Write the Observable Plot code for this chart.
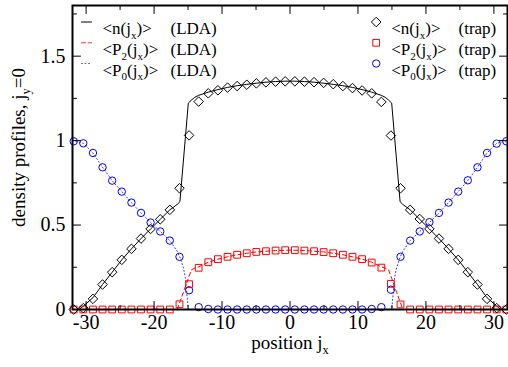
<!DOCTYPE html>
<html><head><meta charset="utf-8">
<script src="https://cdn.jsdelivr.net/npm/d3@7"></script>
<script src="https://cdn.jsdelivr.net/npm/@observablehq/plot@0.6"></script>
<style>body{margin:0;background:#fff}</style>
</head><body><div id="chart"></div>
<script>
// ---- data ----
const trapX = [-31.82,-30.41,-28.99,-27.58,-26.16,-24.75,-23.33,-21.92,-20.51,-19.09,-17.68,-16.26,-14.85,-13.44,-12.02,-10.61,-9.19,-7.78,-6.36,-4.95,-3.54,-2.12,-0.71,
  0.71,2.12,3.54,4.95,6.36,7.78,9.19,10.61,12.02,13.44,14.85,16.26,17.68,19.09,20.51,21.92,23.33,24.75,26.16,27.58,28.99,30.41,31.82];
const nTrap = [0.000,0.008,0.063,0.148,0.221,0.294,0.359,0.420,0.477,0.534,0.590,0.718,1.031,1.231,1.280,1.298,1.314,1.323,1.331,1.339,1.345,1.349,1.351,
  1.351,1.349,1.346,1.342,1.334,1.323,1.311,1.297,1.280,1.229,1.030,0.718,0.590,0.536,0.477,0.420,0.359,0.294,0.221,0.148,0.063,0.008,0.000];
const p2Trap = [0,0,0,0,0,0,0,0,0,0,0,0.031,0.150,0.247,0.280,0.298,0.312,0.324,0.333,0.341,0.345,0.349,0.351,
  0.351,0.349,0.345,0.340,0.333,0.324,0.312,0.298,0.278,0.248,0.152,0.030,0,0,0,0,0,0,0,0,0,0,0];
const p0Trap = [0.996,0.984,0.927,0.842,0.763,0.698,0.633,0.572,0.515,0.462,0.408,0.312,0.114,0.014,0.003,0,0,0,0,0,0,0,0,
  0,0,0,0,0,0,0,0,0.003,0.014,0.117,0.312,0.408,0.462,0.517,0.572,0.633,0.698,0.765,0.842,0.927,0.982,0.996];

const ldaX = [-32,-31,-30.41,-28.99,-27.58,-26.16,-24.75,-23.33,-21.92,-20.51,-19.09,-17.68,-16.6,-16.2,-15.7,-15.4,-14.96,-14.5,-14.0,-13.44,-12.02,-10.61,-9.19,-7.78,-6.36,-4.95,-3.54,-2.12,-0.71,
  0,
  0.71,2.12,3.54,4.95,6.36,7.78,9.19,10.61,12.02,13.44,14.0,14.5,14.96,15.4,15.7,16.2,16.6,17.68,19.09,20.51,21.92,23.33,24.75,26.16,27.58,28.99,30.41,31,32];
const nLda = [0,0,0.02,0.07,0.148,0.221,0.294,0.359,0.420,0.477,0.534,0.590,0.622,0.638,0.873,1.014,1.222,1.240,1.257,1.268,1.287,1.302,1.315,1.325,1.333,1.340,1.346,1.350,1.352,
  1.352,
  1.352,1.350,1.346,1.340,1.333,1.325,1.315,1.302,1.287,1.268,1.257,1.240,1.222,1.014,0.873,0.638,0.622,0.590,0.534,0.477,0.420,0.359,0.294,0.221,0.148,0.07,0.02,0,0];
const p2Lda = [0,0,0,0,0,0,0,0,0,0,0,0,0,0.045,0.100,0.135,0.185,0.235,0.245,0.252,0.280,0.298,0.312,0.324,0.333,0.341,0.345,0.349,0.351,
  0.352,
  0.351,0.349,0.345,0.341,0.333,0.324,0.312,0.298,0.280,0.252,0.245,0.235,0.185,0.135,0.100,0.045,0,0,0,0,0,0,0,0,0,0,0,0,0];
const p0Lda = [1.0,0.99,0.984,0.927,0.842,0.763,0.698,0.633,0.572,0.515,0.462,0.408,0.345,0.31,0.25,0.19,0,0,0,0,0,0,0,0,0,0,0,0,0,
  0,
  0,0,0,0,0,0,0,0,0,0,0,0,0,0.19,0.25,0.31,0.345,0.408,0.462,0.515,0.572,0.633,0.698,0.763,0.842,0.927,0.984,0.99,1.0];

const xMajor = [-30,-20,-10,0,10,20,30];
const xMinor = [-25,-15,-5,5,15,25];
const yMajor = [0,0.5,1,1.5];
const yMinor = [0.25,0.75,1.25,1.75];
const yLabels = ["0","0.5","1","1.5"];
const ldaLabels = ["<n(j_x)>","<P_2(j_x)>","<P_0(j_x)>"];
const trapLabels = ["<n(j_x)>","<P_2(j_x)>","<P_0(j_x)>"];
const colors = ["black","#ff0000","#0000ff"];
const legendColors = ["black","#ff3030","#6060ff"];
const dashes = [null,"4,3","1,2.5"];
const symbols = ["diamond2","square2","circle"];

// ---- build ----
const trap = trapX.map((x,i)=>({x, n:nTrap[i], p2:p2Trap[i], p0:p0Trap[i]}));
const lda = ldaX.map((x,i)=>({x, n:nLda[i], p2:p2Lda[i], p0:p0Lda[i]}));
const tickShape = {draw(ctx, l){ ctx.moveTo(0,0); ctx.lineTo(0,-l); }};
const FONT = "Liberation Serif, Times New Roman, serif";

function ticks(vals, len, dir){
  const common = {anchor:"start", shape:tickShape, length:len, stroke:"black", strokeWidth:1};
  if (dir==="x") return [
    Plot.vector(vals,{...common, x:d=>d, frameAnchor:"bottom", rotate:0}),
    Plot.vector(vals,{...common, x:d=>d, frameAnchor:"top", rotate:180})];
  return [
    Plot.vector(vals,{...common, y:d=>d, frameAnchor:"left", rotate:90}),
    Plot.vector(vals,{...common, y:d=>d, frameAnchor:"right", rotate:-90})];
}

const rowDy = [16.5, 37.3, 58];
const LFS = 17;
const legend = [];
ldaLabels.forEach((s,i)=>{
  legend.push(Plot.vector([s],{frameAnchor:"top-left", dx:9, dy:rowDy[i], rotate:90, anchor:"start", length:10, shape:tickShape, stroke:legendColors[i], strokeDasharray:dashes[i], strokeWidth:1}));
  legend.push(Plot.text([s],{frameAnchor:"top-left", dx:30, dy:rowDy[i], text:d=>d, textAnchor:"start", fontSize:LFS}));
  legend.push(Plot.text(["(LDA)"],{frameAnchor:"top-left", dx:98, dy:rowDy[i], text:d=>d, textAnchor:"start", fontSize:LFS}));
});
trapLabels.forEach((s,i)=>{
  legend.push(Plot.dot([s],{frameAnchor:"top-left", dx:303.7, dy:rowDy[i], symbol:symbols[i], r:i===2?3.7:4.3, stroke:colors[i], fill:"none", strokeWidth:1}));
  legend.push(Plot.text([s],{frameAnchor:"top-left", dx:318.7, dy:rowDy[i], text:d=>d, textAnchor:"start", fontSize:LFS}));
  legend.push(Plot.text(["(trap)"],{frameAnchor:"top-left", dx:386, dy:rowDy[i], text:d=>d, textAnchor:"start", fontSize:LFS}));
});

const chart = Plot.plot({
  width:508, height:367,
  marginLeft:72, marginRight:1, marginTop:5, marginBottom:58,
  x:{domain:[-32,32], axis:null},
  y:{domain:[0,1.8], axis:null},
  style:{fontFamily:FONT, background:"white", color:"black"},
  marks:[
    Plot.line(lda,{x:"x", y:"n", stroke:colors[0], strokeWidth:1}),
    Plot.line(lda,{x:"x", y:"p2", stroke:colors[1], strokeWidth:1, strokeDasharray:dashes[1]}),
    Plot.line(lda,{x:"x", y:"p0", stroke:"#3030ff", strokeWidth:1, strokeDasharray:dashes[2]}),
    Plot.dot(trap,{x:"x", y:"p0", symbol:"circle", r:3.7, stroke:colors[2], fill:"none", strokeWidth:1}),
    Plot.dot(trap,{x:"x", y:"p2", symbol:"square2", r:4.3, stroke:colors[1], fill:"none", strokeWidth:1}),
    Plot.dot(trap,{x:"x", y:"n", symbol:"diamond2", r:4.3, stroke:colors[0], fill:"none", strokeWidth:1}),
    ...ticks(xMajor, 8, "x"), ...ticks(xMinor, 4, "x"),
    ...ticks(yMajor, 8, "y"), ...ticks(yMinor, 4, "y"),
    Plot.frame({stroke:"black", strokeWidth:2}),
    Plot.text(xMajor,{x:d=>d, frameAnchor:"bottom", dy:19, text:d=>String(d), fontSize:20}),
    Plot.text(yMajor,{y:d=>d, frameAnchor:"left", dx:-7, textAnchor:"end", text:(d,i)=>yLabels[i], fontSize:20}),
    Plot.text(["position j_x"],{frameAnchor:"bottom", dy:39, text:d=>d, fontSize:19}),
    Plot.text(["density profiles, j_y=0"],{frameAnchor:"left", dx:-54, dy:-10, rotate:-90, textAnchor:"middle", text:d=>d, fontSize:19}),
    ...legend
  ]
});

// subscripts: "_c" -> subscript c
chart.querySelectorAll("text").forEach(t=>{
  const s = t.textContent;
  if (!s.includes("_")) return;
  const fsAttr = t.closest("[font-size]");
  const fs = fsAttr ? parseFloat(fsAttr.getAttribute("font-size")) : 18;
  const parts = s.split(/_(.)/);
  while (t.firstChild) t.removeChild(t.firstChild);
  const NS = "http://www.w3.org/2000/svg";
  let shifted = false;
  parts.forEach((p,i)=>{
    if (!p) return;
    const ts = document.createElementNS(NS,"tspan");
    ts.textContent = p;
    if (i%2===1){ ts.setAttribute("font-size", fs*0.65); ts.setAttribute("dy", fs*0.28); shifted = true; }
    else if (shifted){ ts.setAttribute("dy", -fs*0.28); shifted = false; }
    t.appendChild(ts);
  });
});
document.getElementById("chart").appendChild(chart);
</script></body></html>
